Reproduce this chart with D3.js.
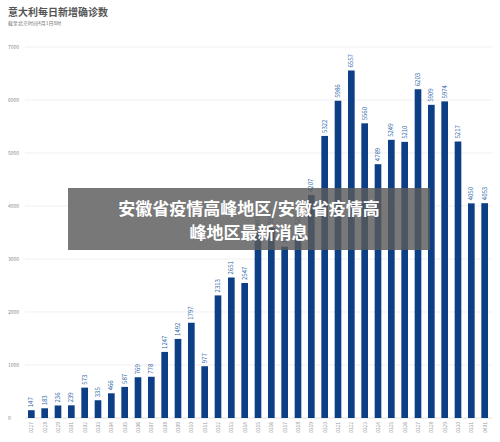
<!DOCTYPE html><html><head><meta charset="utf-8"><script src="https://cdn.jsdelivr.net/npm/d3@7"></script>
<style>body{margin:0;background:#fff}svg{font-family:"Noto Sans CJK SC","Noto Sans",sans-serif}</style></head><body>
<script>
const dates=["0227","0228","0229","0301","0302","0303","0304","0305","0306","0307","0308","0309","0310","0311","0312","0313","0314","0315","0316","0317","0318","0319","0320","0321","0322","0323","0324","0325","0326","0327","0328","0329","0330","0331","0401"];
const values=[147,183,236,239,573,335,466,587,769,778,1247,1492,1797,977,2313,2651,2547,3497,3590,3233,3526,4207,5322,5986,6557,5560,4789,5249,5210,6203,5909,5974,5217,4050,4053];
const yTicks=[0,1000,2000,3000,4000,5000,6000,7000];
const svg=d3.select("body").append("svg").attr("width",500).attr("height",442);
const x=d3.scaleBand().domain(dates).range([24,492]).paddingInner(0.5).paddingOuter(0.3);
const y=d3.scaleLinear().domain([0,7000]).range([418,47]);
svg.append("text").attr("x",8).attr("y",16).attr("font-size",10).attr("font-weight","bold").attr("fill","#555").text("意大利每日新增确诊数");
svg.append("text").attr("x",8).attr("y",25).attr("font-size",5).attr("fill","#777").text("截至北京时间4月1日8时");
const g=svg.append("g");
yTicks.forEach(t=>{
 g.append("line").attr("x1",25).attr("x2",492).attr("y1",y(t)).attr("y2",y(t)).attr("stroke",t===0?"#ccc":"#e6e6e6").attr("stroke-width",0.6);
 g.append("text").attr("x",8).attr("y",y(t)+2).attr("font-size",5).attr("fill","#888").text(t);
});
svg.selectAll(".bar").data(values).join("rect").attr("x",(d,i)=>x(dates[i])).attr("width",x.bandwidth())
 .attr("y",d=>y(d)).attr("height",d=>418-y(d)).attr("fill","#0d3f86");
svg.selectAll(".vl").data(values).join("text").attr("font-size",6).attr("fill","#2a5fa8")
 .attr("transform",(d,i)=>`translate(${x(dates[i])+x.bandwidth()/2+2},${y(d)-3}) rotate(-90)`).text(d=>d);
svg.selectAll(".xl").data(dates).join("text").attr("font-size",5).attr("fill","#999")
 .attr("text-anchor","end")
 .attr("transform",d=>`translate(${x(d)+x.bandwidth()/2+2},422) rotate(-90)`).text(d=>d);
svg.append("rect").attr("x",68).attr("y",188).attr("width",362).attr("height",62).attr("fill","rgba(90,90,90,0.82)");
svg.append("text").attr("x",249).attr("y",215).attr("text-anchor","middle").attr("font-size",17).attr("font-weight","bold").attr("fill","#fff").text("安徽省疫情高峰地区/安徽省疫情高");
svg.append("text").attr("x",249).attr("y",239).attr("text-anchor","middle").attr("font-size",17).attr("font-weight","bold").attr("fill","#fff").text("峰地区最新消息");
</script></body></html>
